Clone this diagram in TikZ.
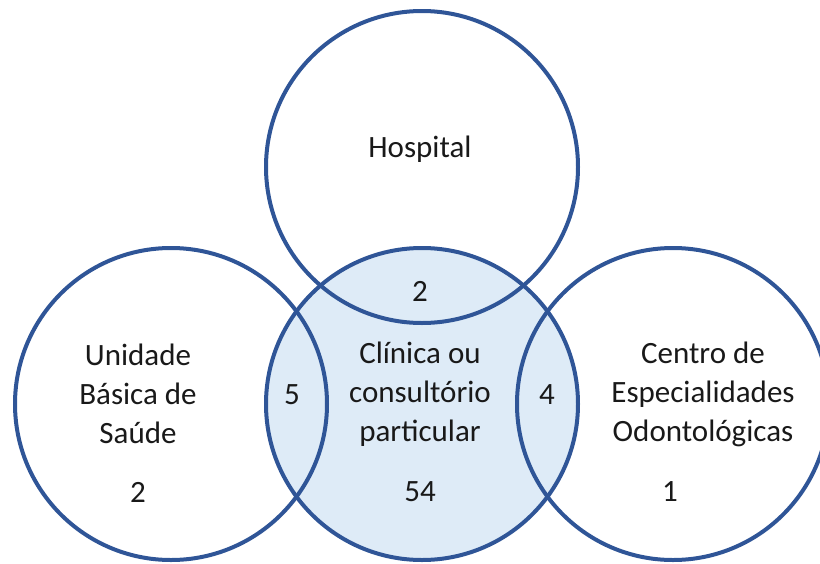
\documentclass[tikz,border=0pt]{standalone}
\usepackage{fontspec}
\setmainfont{Carlito}
\definecolor{ringblue}{HTML}{2F5597}
\definecolor{fillblue}{HTML}{DEEBF7}
\begin{document}
\begin{tikzpicture}[x=1pt,y=-1pt,
  ring/.style={draw=ringblue,line width=4pt},
  lbl/.style={font=\fontsize{31}{39}\selectfont,align=center,text=black!90,inner sep=0pt}]
\useasboundingbox (0,0) rectangle (820,563);
\clip (0,0) rectangle (820,563);
\coordinate (cH) at (422,167);
\coordinate (cC) at (422,404);
\coordinate (cL) at (171,404);
\coordinate (cR) at (673,404);
\fill[fillblue] (cC) circle[radius=156];
\draw[ring] (cH) circle[radius=156];
\draw[ring] (cC) circle[radius=156];
\draw[ring] (cL) circle[radius=156];
\draw[ring] (cR) circle[radius=156];
\node[lbl] (hosp) at (420,149) {Hospital};
\node[lbl] (hc) at (420,291) {2};
\node[lbl] (ubs) at (138,394) {Unidade\\Básica de\\Saúde};
\node[lbl] (ubsn) at (138,492) {2};
\node[lbl] (lc) at (292,395) {5};
\node[lbl] (clin) at (420,394) {Clínica ou\\consultório\\particular};
\node[lbl] (clinn) at (420,492) {54};
\node[lbl] (rc) at (547,395) {4};
\node[lbl] (ceo) at (703,394) {Centro de\\Especialidades\\Odontológicas};
\node[lbl] (ceon) at (670,492) {1};
\end{tikzpicture}
\end{document}
